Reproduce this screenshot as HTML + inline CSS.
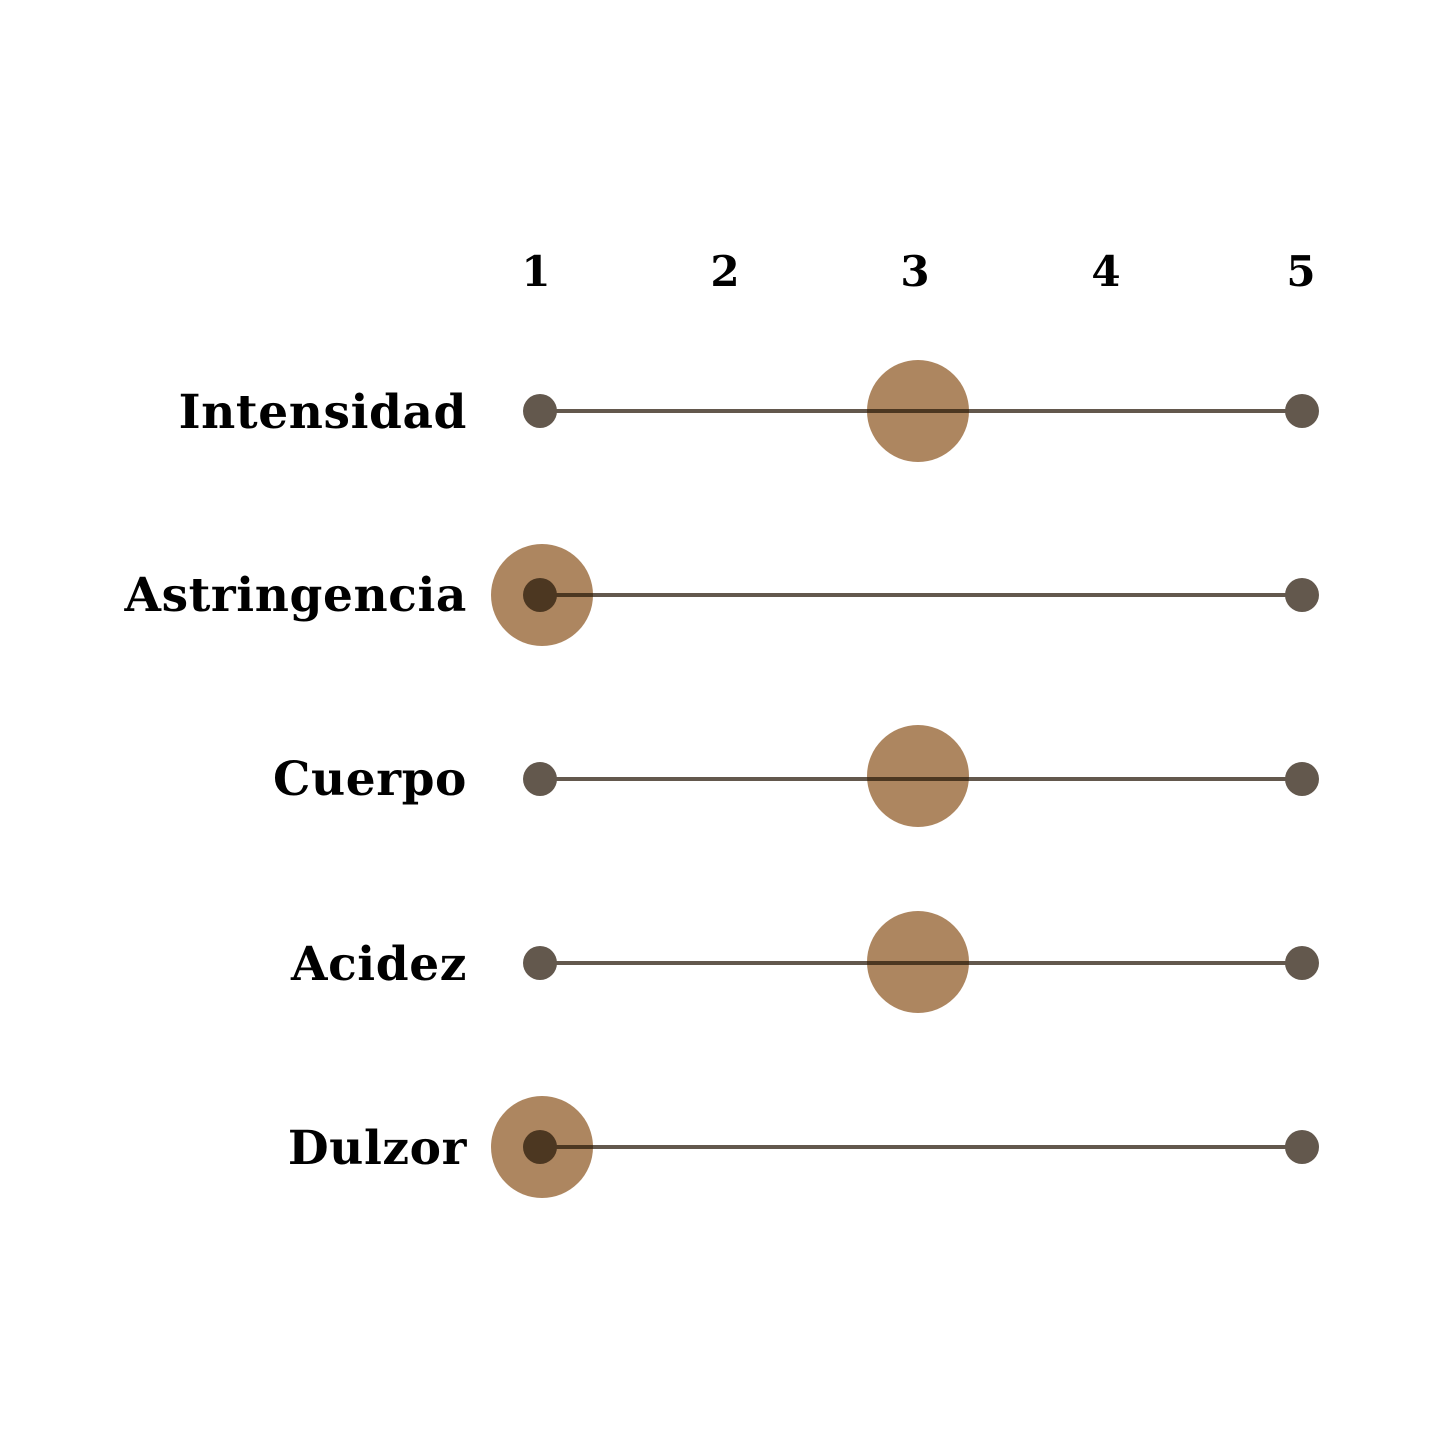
<!DOCTYPE html>
<html><head><meta charset="utf-8"><style>
html,body{margin:0;padding:0;background:#fff;}
svg{display:block;}
text{font-family:"DejaVu Serif","Liberation Serif",serif;font-weight:bold;fill:#000;}
</style></head><body>
<svg width="1445" height="1445" viewBox="0 0 1445 1445" xmlns="http://www.w3.org/2000/svg">
<g font-size="42" text-anchor="middle">
<text x="536" y="286">1</text>
<text x="725" y="286">2</text>
<text x="915" y="286">3</text>
<text x="1106" y="286">4</text>
<text x="1301" y="286">5</text>
</g>
<g font-size="47" text-anchor="end" letter-spacing="0.6">
<text x="467" y="428">Intensidad</text>
<text x="467" y="611">Astringencia</text>
<text x="467" y="795">Cuerpo</text>
<text x="467" y="980">Acidez</text>
<text x="467" y="1164">Dulzor</text>
</g>
<g fill="#ad8660">
<circle cx="918" cy="411" r="51"/>
<circle cx="542" cy="595" r="51"/>
<circle cx="918" cy="776" r="51"/>
<circle cx="918" cy="962" r="51"/>
<circle cx="542" cy="1147" r="51"/>
</g>
<g opacity="0.72">
<g stroke="rgb(40,25,10)" stroke-width="4">
<line x1="540" y1="411" x2="1302" y2="411"/>
<line x1="540" y1="595" x2="1302" y2="595"/>
<line x1="540" y1="779" x2="1302" y2="779"/>
<line x1="540" y1="963" x2="1302" y2="963"/>
<line x1="540" y1="1147" x2="1302" y2="1147"/>
</g>
<g fill="rgb(40,25,10)">
<circle cx="540" cy="411" r="17"/><circle cx="1302" cy="411" r="17"/>
<circle cx="540" cy="595" r="17"/><circle cx="1302" cy="595" r="17"/>
<circle cx="540" cy="779" r="17"/><circle cx="1302" cy="779" r="17"/>
<circle cx="540" cy="963" r="17"/><circle cx="1302" cy="963" r="17"/>
<circle cx="540" cy="1147" r="17"/><circle cx="1302" cy="1147" r="17"/>
</g>
</g>
</svg>
</body></html>
